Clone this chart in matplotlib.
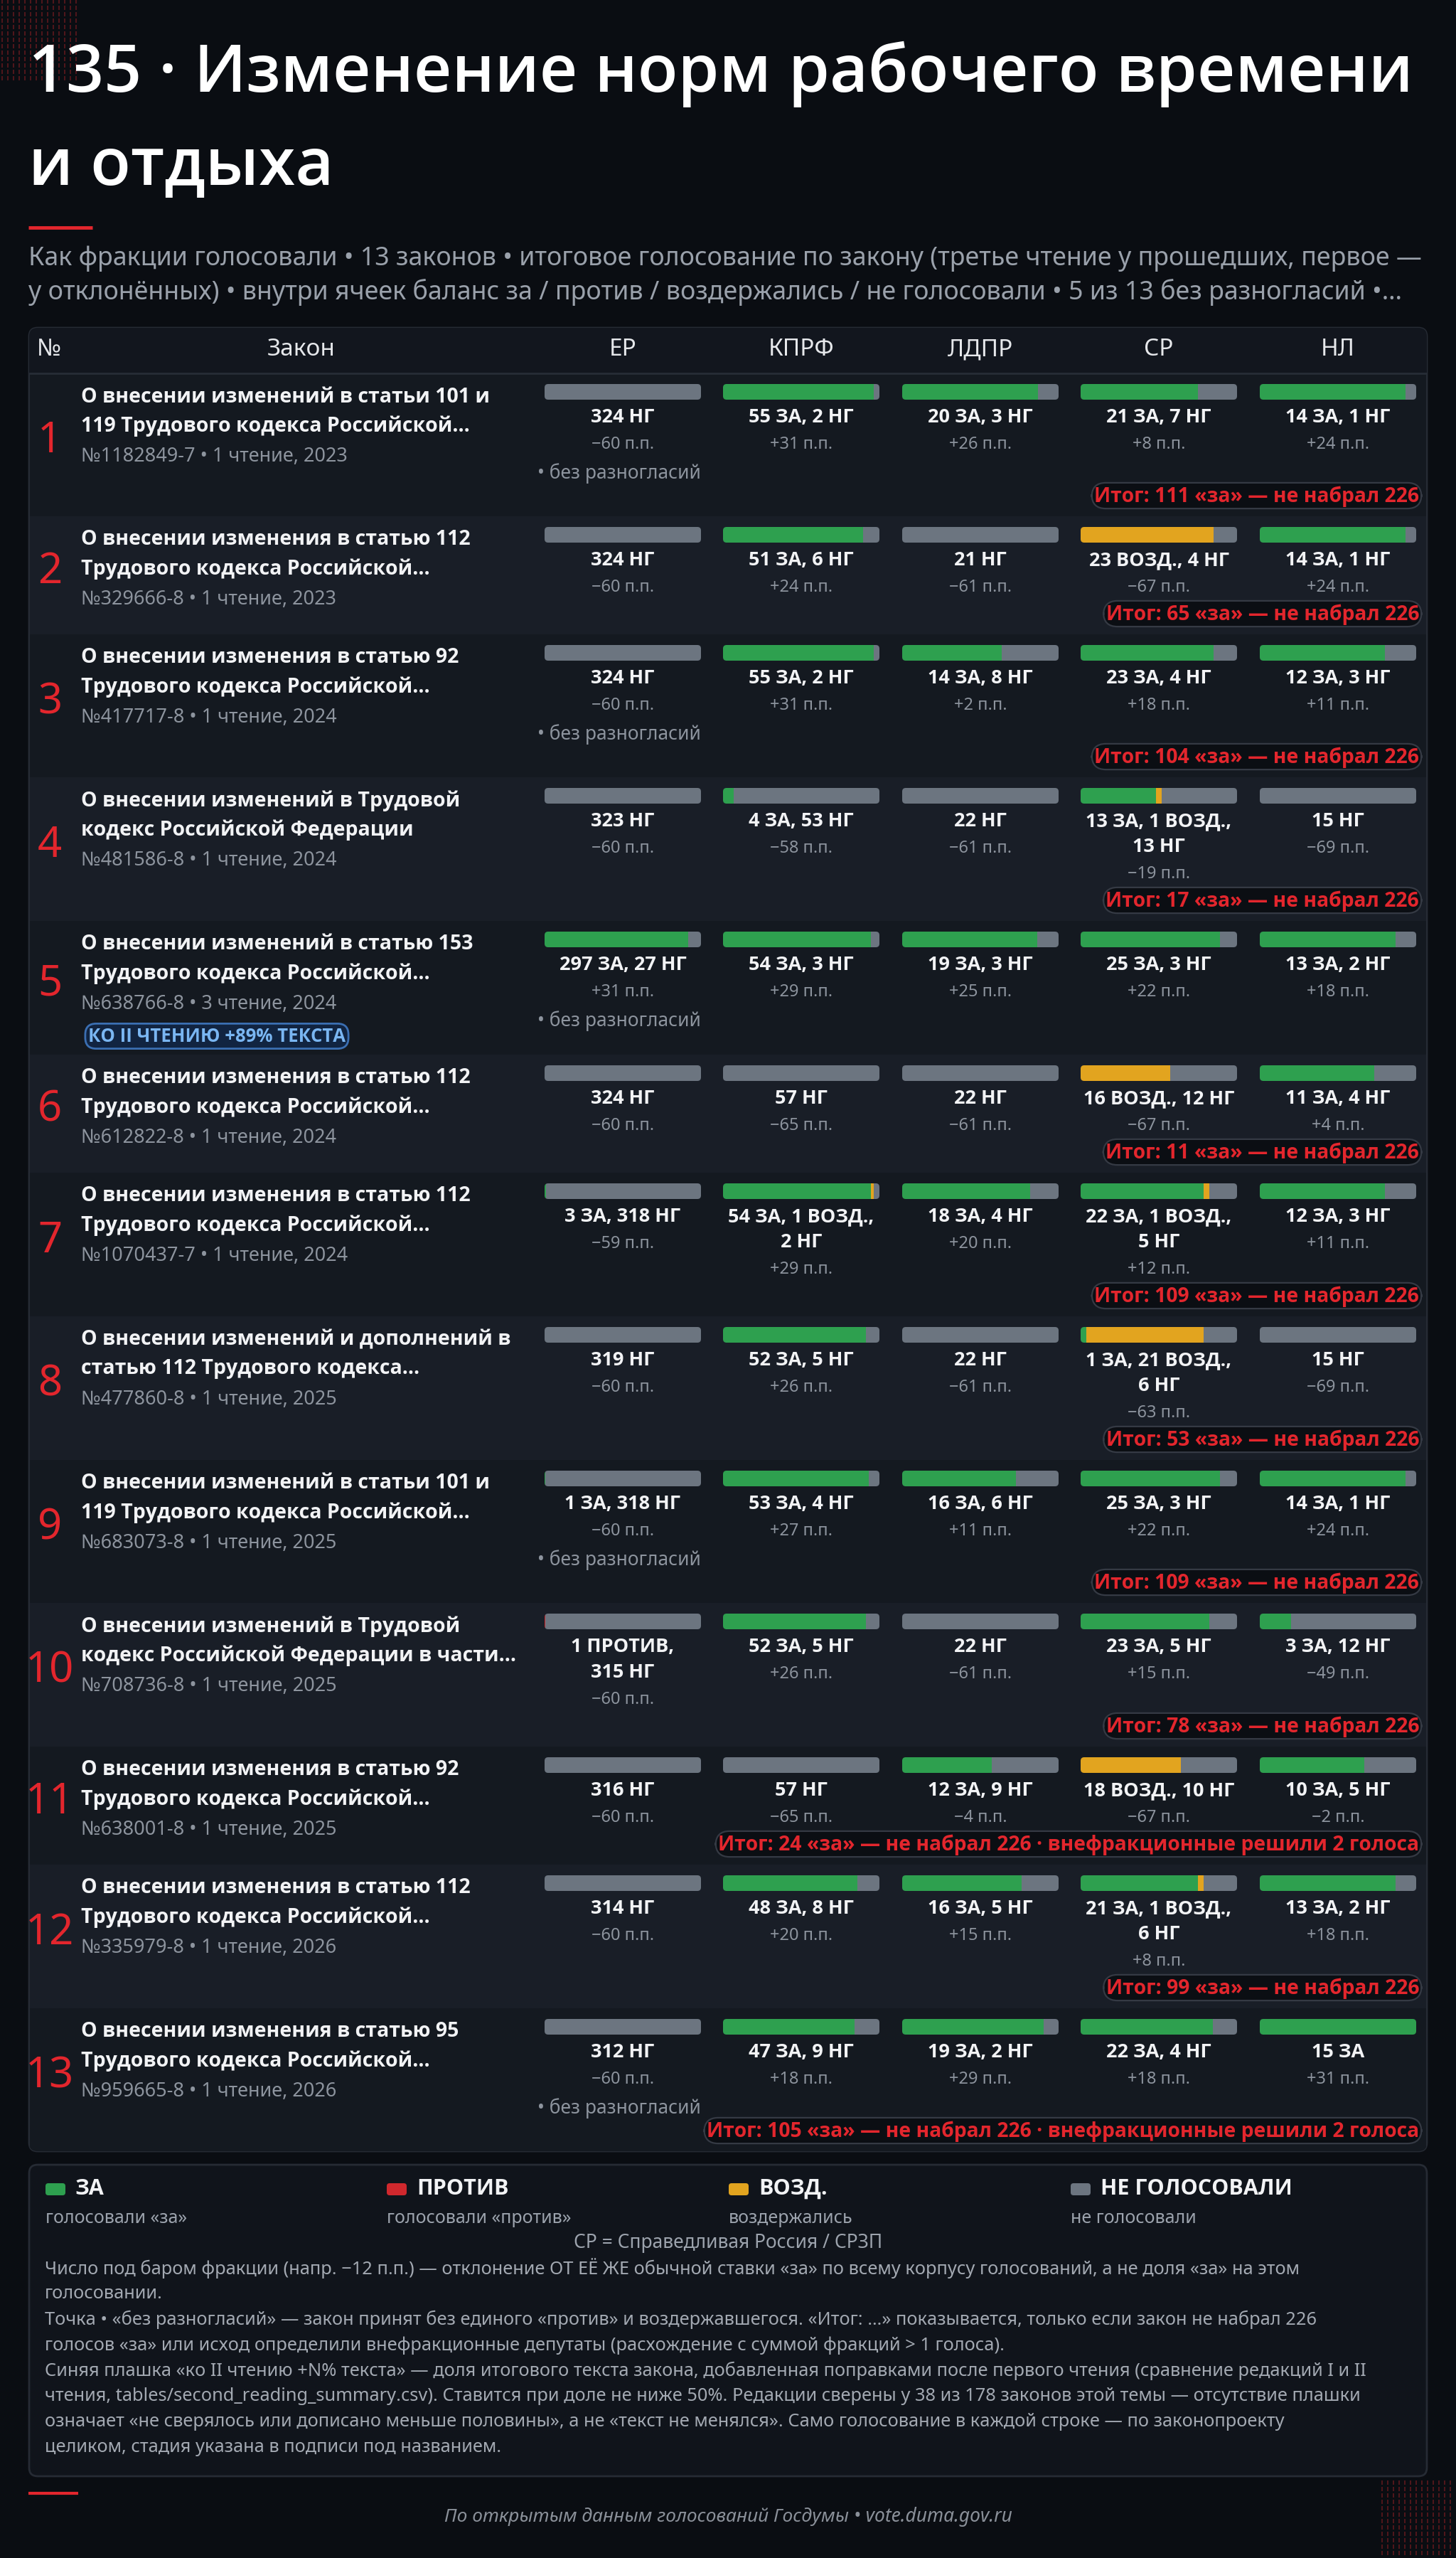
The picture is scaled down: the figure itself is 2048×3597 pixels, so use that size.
import numpy as np
import matplotlib
matplotlib.use("Agg")
import matplotlib.pyplot as plt
from matplotlib.patches import FancyBboxPatch, Rectangle

plt.rcParams['font.family'] = ['Noto Sans', 'DejaVu Sans']
BOLDFAM = ['Open Sans', 'Noto Sans', 'DejaVu Sans']

# ---------------- data ----------------
parties = ['ЕР', 'КПРФ', 'ЛДПР', 'СР', 'НЛ']

title_line1 = [
    "О внесении изменений в статьи 101 и",
    "О внесении изменения в статью 112",
    "О внесении изменения в статью 92",
    "О внесении изменений в Трудовой",
    "О внесении изменений в статью 153",
    "О внесении изменения в статью 112",
    "О внесении изменения в статью 112",
    "О внесении изменений и дополнений в",
    "О внесении изменений в статьи 101 и",
    "О внесении изменений в Трудовой",
    "О внесении изменения в статью 92",
    "О внесении изменения в статью 112",
    "О внесении изменения в статью 95",
]
title_line2 = [
    "119 Трудового кодекса Российской…",
    "Трудового кодекса Российской…",
    "Трудового кодекса Российской…",
    "кодекс Российской Федерации",
    "Трудового кодекса Российской…",
    "Трудового кодекса Российской…",
    "Трудового кодекса Российской…",
    "статью 112 Трудового кодекса…",
    "119 Трудового кодекса Российской…",
    "кодекс Российской Федерации в части…",
    "Трудового кодекса Российской…",
    "Трудового кодекса Российской…",
    "Трудового кодекса Российской…",
]
law_numbers = ["1182849-7", "329666-8", "417717-8", "481586-8", "638766-8", "612822-8",
               "1070437-7", "477860-8", "683073-8", "708736-8", "638001-8", "335979-8", "959665-8"]
reading_stage = [1, 1, 1, 1, 3, 1, 1, 1, 1, 1, 1, 1, 1]
vote_years = [2023, 2023, 2024, 2024, 2024, 2024, 2024, 2025, 2025, 2025, 2025, 2026, 2026]

# per row: [ЕР, КПРФ, ЛДПР, СР, НЛ]
votes_za = [
    [0, 55, 20, 21, 14], [0, 51, 0, 0, 14], [0, 55, 14, 23, 12], [0, 4, 0, 13, 0],
    [297, 54, 19, 25, 13], [0, 0, 0, 0, 11], [3, 54, 18, 22, 12], [0, 52, 0, 1, 0],
    [1, 53, 16, 25, 14], [0, 52, 0, 23, 3], [0, 0, 12, 0, 10], [0, 48, 16, 21, 13],
    [0, 47, 19, 22, 15],
]
votes_protiv = [
    [0, 0, 0, 0, 0], [0, 0, 0, 0, 0], [0, 0, 0, 0, 0], [0, 0, 0, 0, 0],
    [0, 0, 0, 0, 0], [0, 0, 0, 0, 0], [0, 0, 0, 0, 0], [0, 0, 0, 0, 0],
    [0, 0, 0, 0, 0], [1, 0, 0, 0, 0], [0, 0, 0, 0, 0], [0, 0, 0, 0, 0],
    [0, 0, 0, 0, 0],
]
votes_vozd = [
    [0, 0, 0, 0, 0], [0, 0, 0, 23, 0], [0, 0, 0, 0, 0], [0, 0, 0, 1, 0],
    [0, 0, 0, 0, 0], [0, 0, 0, 16, 0], [0, 1, 0, 1, 0], [0, 0, 0, 21, 0],
    [0, 0, 0, 0, 0], [0, 0, 0, 0, 0], [0, 0, 0, 18, 0], [0, 0, 0, 1, 0],
    [0, 0, 0, 0, 0],
]
votes_ng = [
    [324, 2, 3, 7, 1], [324, 6, 21, 4, 1], [324, 2, 8, 4, 3], [323, 53, 22, 13, 15],
    [27, 3, 3, 3, 2], [324, 57, 22, 12, 4], [318, 2, 4, 5, 3], [319, 5, 22, 6, 15],
    [318, 4, 6, 3, 1], [315, 5, 22, 5, 12], [316, 57, 9, 10, 5], [314, 8, 5, 6, 2],
    [312, 9, 2, 4, 0],
]
delta_pp = [
    [-60, 31, 26, 8, 24], [-60, 24, -61, -67, 24], [-60, 31, 2, 18, 11], [-60, -58, -61, -19, -69],
    [31, 29, 25, 22, 18], [-60, -65, -61, -67, 4], [-59, 29, 20, 12, 11], [-60, 26, -61, -63, -69],
    [-60, 27, 11, 22, 24], [-60, 26, -61, 15, -49], [-60, -65, -4, -67, -2], [-60, 20, 15, 8, 18],
    [-60, 18, 29, 18, 31],
]
no_disagreement = [True, False, True, False, True, False, False, False, True, False, False, False, True]
total_za = [111, 65, 104, 17, None, 11, 109, 53, 109, 78, 24, 99, 105]
independents_decided = [0, 0, 0, 0, 0, 0, 0, 0, 0, 0, 2, 0, 2]
second_reading_pct = [None, None, None, None, 89, None, None, None, None, None, None, None, None]

legend_names = ["ЗА", "ПРОТИВ", "ВОЗД.", "НЕ ГОЛОСОВАЛИ"]
legend_desc = ["голосовали «за»", "голосовали «против»", "воздержались", "не голосовали"]

notes_lines = [
    "Число под баром фракции (напр. −12 п.п.) — отклонение ОТ ЕЁ ЖЕ обычной ставки «за» по всему корпусу голосований, а не доля «за» на этом",
    "голосовании.",
    "Точка • «без разногласий» — закон принят без единого «против» и воздержавшегося. «Итог: …» показывается, только если закон не набрал 226",
    "голосов «за» или исход определили внефракционные депутаты (расхождение с суммой фракций > 1 голоса).",
    "Синяя плашка «ко II чтению +N% текста» — доля итогового текста закона, добавленная поправками после первого чтения (сравнение редакций I и II",
    "чтения, tables/second_reading_summary.csv). Ставится при доле не ниже 50%. Редакции сверены у 38 из 178 законов этой темы — отсутствие плашки",
    "означает «не сверялось или дописано меньше половины», а не «текст не менялся». Само голосование в каждой строке — по законопроекту",
    "целиком, стадия указана в подписи под названием.",
]

# ---------------- style ----------------
BG = '#0a0d12'
PANEL = '#10141b'
PANEL_EDGE = '#262b34'
ROW_A = '#141920'
ROW_B = '#191e27'
HEAD_BG = '#12161e'
C_ZA = '#2ea04f'
C_PR = '#d0282d'
C_VZ = '#e2a41f'
C_NG = '#6c7580'
WHITE = '#f2f3f5'
GRAY = '#8d949e'
RED = '#e3262d'

W, H, DPI = 2048, 3598, 100
fig = plt.figure(figsize=(W / DPI, H / DPI), dpi=DPI, facecolor=BG)
ax = fig.add_axes([0, 0, 1, 1])
ax.set_xlim(0, W)
ax.set_ylim(H, 0)
ax.axis('off')
ax.set_facecolor(BG)

# decorative dot grids
gx, gy = np.meshgrid(np.arange(3, 112, 8), np.arange(3, 112, 9))
ax.scatter(gx.ravel(), gy.ravel(), marker='|', s=14, color='#5e181d', linewidths=1.2, zorder=1)
gx2, gy2 = np.meshgrid(np.arange(1944, 2048, 8), np.arange(3492, 3598, 9))
ax.scatter(gx2.ravel(), gy2.ravel(), marker='|', s=14, color='#5e181d', linewidths=1.2, zorder=1)

# title
ax.text(40, 104, "135 · Изменение норм рабочего времени", fontsize=67, color='white',
        family=BOLDFAM, fontweight='semibold', va='center', ha='left')
ax.text(40, 236, "и отдыха", fontsize=67, color='white', family=BOLDFAM, fontweight='semibold',
        va='center', ha='left')
ax.plot([40, 130], [321, 321], color=RED, lw=3.5, solid_capstyle='butt')
ax.text(40, 364, "Как фракции голосовали • 13 законов • итоговое голосование по закону (третье чтение у прошедших, первое —",
        fontsize=25.8, color='#9aa1ab', va='center', ha='left')
ax.text(40, 411, "у отклонённых) • внутри ячеек баланс за / против / воздержались / не голосовали • 5 из 13 без разногласий •…",
        fontsize=25.8, color='#9aa1ab', va='center', ha='left')

# ---------------- table layout ----------------
X0, X1 = 41, 2007
TOP = 462
HEAD_BOT = 526
col_x = [876, 1127, 1379, 1630, 1882]
BAR_W = 220
BAR_H = 22


def cell_lines(za, pr, vz, ng):
    parts = []
    if za:
        parts.append(f"{za} ЗА")
    if pr:
        parts.append(f"{pr} ПРОТИВ")
    if vz:
        parts.append(f"{vz} ВОЗД.")
    if ng:
        parts.append(f"{ng} НГ")
    text = ", ".join(parts)
    if len(parts) >= 3 or len(text) > 15:
        return [", ".join(parts[:-1]) + ",", parts[-1]]
    return [text]


def fmt_delta(d):
    return ("+" if d >= 0 else "−") + f"{abs(d)} п.п."


# compute row geometry
rows = []
y = HEAD_BOT
for i in range(len(title_line1)):
    labels = [cell_lines(votes_za[i][j], votes_protiv[i][j], votes_vozd[i][j], votes_ng[i][j])
              for j in range(5)]
    delta_ys = [61 + 36 * (len(l) - 1) + 38 for l in labels]
    last = max(delta_ys)
    kind = 'delta'
    bez_y = None
    if no_disagreement[i]:
        bez_y = delta_ys[0] + 41
        if bez_y >= last:
            last, kind = bez_y, 'bez'
    left_bottom = 176 if second_reading_pct[i] else 128
    if total_za[i] is not None:
        itog_y = last + (32 if kind == 'bez' else 38)
        h = itog_y + 29
    else:
        itog_y = None
        h = max(last + 13, left_bottom) + 12
    rows.append(dict(top=y, h=h, labels=labels, delta_ys=delta_ys, bez_y=bez_y, itog_y=itog_y))
    y += h
TABLE_BOT = y

# panel
panel = FancyBboxPatch((X0, TOP), X1 - X0, TABLE_BOT - TOP,
                       boxstyle="round,pad=0,rounding_size=12", fc=PANEL, ec=PANEL_EDGE, lw=2, zorder=2)
ax.add_patch(panel)
head = Rectangle((X0, TOP), X1 - X0, HEAD_BOT - TOP, fc=HEAD_BG, ec='none', zorder=2.5)
head.set_clip_path(panel)
ax.add_patch(head)
ax.plot([X0 + 1, X1 - 1], [HEAD_BOT, HEAD_BOT], color='#272d36', lw=2, zorder=3)

# header texts
ax.text(52, 492, "№", fontsize=24, color='#e6e8eb', ha='left', va='center', zorder=5)
ax.text(424, 492, "Закон", fontsize=24, color='#e6e8eb', ha='center', va='center', zorder=5)
for j, p in enumerate(parties):
    ax.text(col_x[j], 492, p, fontsize=24, color='#e6e8eb', ha='center', va='center', zorder=5)

for i, r in enumerate(rows):
    top, h = r['top'], r['h']
    bg = Rectangle((X0 + 1, top), X1 - X0 - 2, h, fc=ROW_A if i % 2 == 0 else ROW_B, ec='none', zorder=2.5)
    bg.set_clip_path(panel)
    ax.add_patch(bg)

    # number
    ax.text(70, top + h / 2 - 6, str(i + 1), fontsize=43, color=RED, ha='center', va='center', zorder=5)
    # titles
    ax.text(114, top + 32, title_line1[i], fontsize=20.5, color=WHITE, family=BOLDFAM, fontweight='bold',
            ha='left', va='center', zorder=5)
    ax.text(114, top + 73, title_line2[i], fontsize=20.5, color=WHITE, family=BOLDFAM, fontweight='bold',
            ha='left', va='center', zorder=5)
    ax.text(114, top + 116, f"№{law_numbers[i]} • {reading_stage[i]} чтение, {vote_years[i]}",
            fontsize=19.5, color=GRAY, ha='left', va='center', zorder=5)
    if second_reading_pct[i]:
        ax.text(124, top + 162, f"КО II ЧТЕНИЮ +{second_reading_pct[i]}% ТЕКСТА", fontsize=18.5,
                color='#7ab6f2', family=BOLDFAM, fontweight='bold', ha='left', va='center', zorder=6,
                bbox=dict(boxstyle='round,pad=0.16,rounding_size=0.6', fc='#112441', ec='#3b6fb2', lw=2))

    # cells
    for j in range(5):
        cx = col_x[j]
        vals = [votes_za[i][j], votes_protiv[i][j], votes_vozd[i][j], votes_ng[i][j]]
        cols = [C_ZA, C_PR, C_VZ, C_NG]
        total = sum(vals)
        bx0 = cx - BAR_W / 2
        by0 = top + 15
        bax = fig.add_axes([bx0 / W, 1 - (by0 + BAR_H) / H, BAR_W / W, BAR_H / H])
        bax.set_xlim(0, total)
        bax.set_ylim(-0.5, 0.5)
        bax.axis('off')
        clip = FancyBboxPatch((0, 0), 1, 1, boxstyle=f"round,pad=0,rounding_size={5 / BAR_W}",
                              mutation_aspect=BAR_W / BAR_H, transform=bax.transAxes)
        left = 0
        for v, c in zip(vals, cols):
            if v > 0:
                bars = bax.barh([0], [v], left=[left], height=1.0, color=c, edgecolor='none')
                for b in bars:
                    b.set_clip_path(clip)
                left += v
        # labels
        for k, line in enumerate(r['labels'][j]):
            ax.text(cx, top + 61 + 36 * k, line, fontsize=19.5, color=WHITE, family=BOLDFAM,
                    fontweight='bold', ha='center', va='center', zorder=5)
        ax.text(cx, top + r['delta_ys'][j], fmt_delta(delta_pp[i][j]), fontsize=17, color=GRAY,
                ha='center', va='center', zorder=5)
    if r['bez_y'] is not None:
        ax.text(col_x[0] + BAR_W / 2, top + r['bez_y'], "• без разногласий", fontsize=19, color=GRAY,
                ha='right', va='center', zorder=5)
    if r['itog_y'] is not None:
        txt = f"Итог: {total_za[i]} «за» — не набрал 226"
        if independents_decided[i]:
            txt += f" · внефракционные решили {independents_decided[i]} голоса"
        ax.text(1996, top + r['itog_y'], txt, fontsize=20.3, color=RED, family=BOLDFAM, fontweight='bold',
                ha='right', va='center', zorder=6,
                bbox=dict(boxstyle='round,pad=0.12,rounding_size=0.7', fc='#0b0e13', ec='#353a44', lw=1.6))

# ---------------- legend panel ----------------
LTOP, LBOT = 3045, 3483
lp = FancyBboxPatch((X0, LTOP), X1 - X0, LBOT - LTOP, boxstyle="round,pad=0,rounding_size=12",
                    fc=PANEL, ec=PANEL_EDGE, lw=2, zorder=2)
ax.add_patch(lp)
leg_x = [64, 544, 1025, 1506]
leg_c = [C_ZA, C_PR, C_VZ, C_NG]
for k in range(4):
    ax.add_patch(FancyBboxPatch((leg_x[k], 3071), 28, 17, boxstyle="round,pad=0,rounding_size=4",
                                fc=leg_c[k], ec='none', zorder=5))
    ax.text(leg_x[k] + 42, 3078, legend_names[k], fontsize=22, color=WHITE, family=BOLDFAM,
            fontweight='bold', ha='left', va='center', zorder=5)
    ax.text(leg_x[k], 3120, legend_desc[k], fontsize=18, color='#9ca3ad', ha='left', va='center', zorder=5)
ax.text(1024, 3154, "СР = Справедливая Россия / СРЗП", fontsize=19, color='#9ca3ad',
        ha='center', va='center', zorder=5)
for k, line in enumerate(notes_lines):
    ax.text(63, 3190 + 36 * k, line, fontsize=18.3, color='#a3a9b2', ha='left', va='center', zorder=5)

# footer
ax.plot([40, 110], [3507, 3507], color=RED, lw=3, solid_capstyle='butt')
ax.text(1024, 3539, "По открытым данным голосований Госдумы • vote.duma.gov.ru", fontsize=19,
        color='#8a9099', style='italic', ha='center', va='center')

fig.savefig("out.png", dpi=DPI, facecolor=BG)
